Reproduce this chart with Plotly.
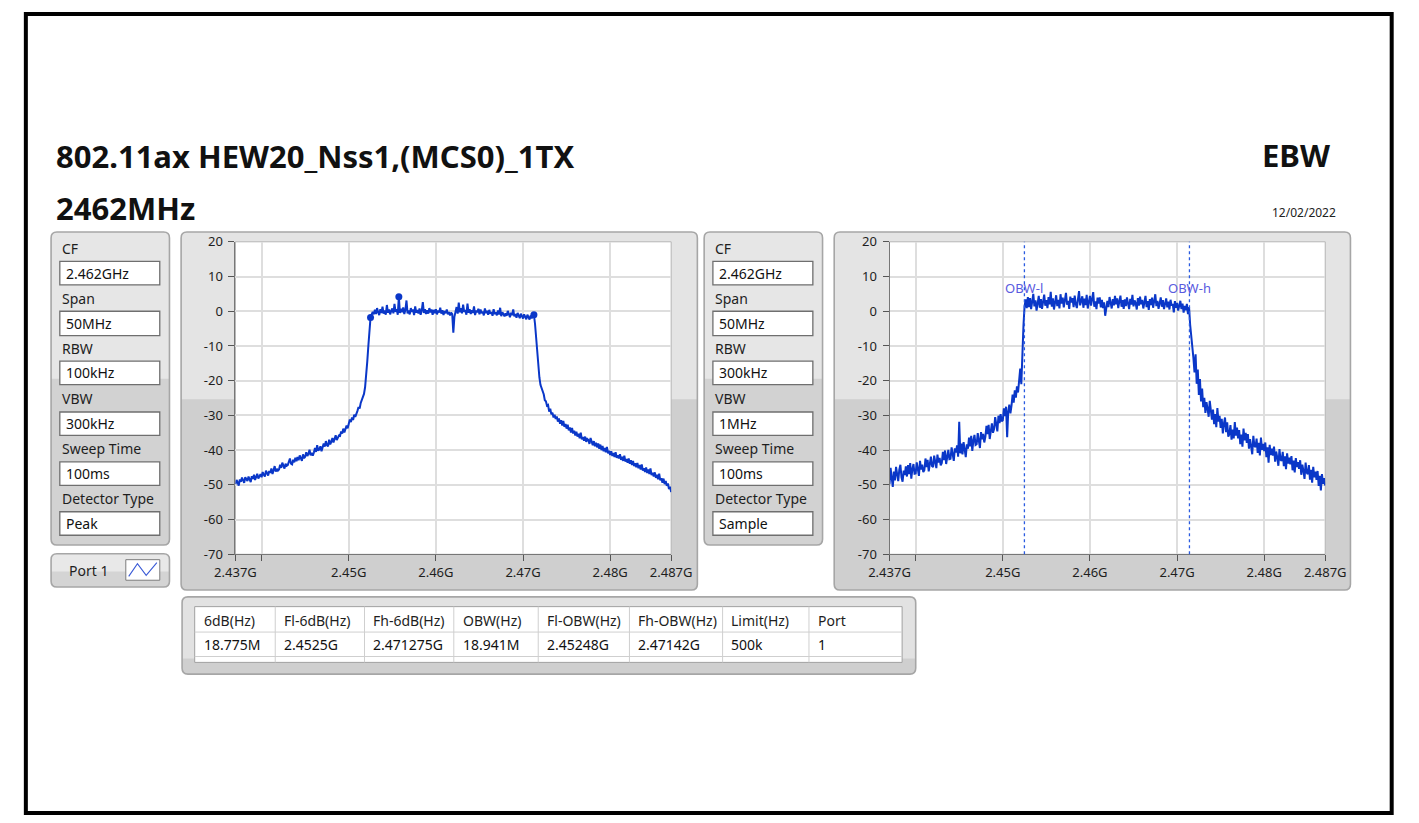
import numpy as np
import plotly.graph_objects as go

W, H = 1419, 823

# ------------------------------------------------------------------ data
CF_GHZ = 2.462
SPAN_MHZ = 50
N_POINTS = 401

title_text = "802.11ax HEW20_Nss1,(MCS0)_1TX"
freq_text = "2462MHz"
test_name = "EBW"
date_text = "12/02/2022"

# Left graph: Peak detector, RBW 100 kHz (dBm), one row per MHz
peak_trace_db = [
    -49.8, -48.6, -49.3, -50.2, -48.4, -49.1, -47.9, -48.8,
    -49.4, -47.8, -48.5, -48.9, -47.6, -48.7, -49.2, -47.5,
    -48.3, -47.1, -48.6, -47.7, -46.8, -48.2, -47.4, -46.9,
    -47.8, -46.3, -47.1, -47.6, -45.9, -46.8, -47.3, -46.0,
    -46.5, -45.3, -46.9, -45.8, -44.6, -46.2, -45.4, -45.9,
    -45.6, -44.2, -45.1, -43.6, -44.8, -45.3, -43.9, -44.5,
    -44.3, -43.1, -42.4, -43.9, -44.1, -42.8, -43.5, -42.2,
    -43.2, -42.0, -42.9, -41.5, -42.6, -43.1, -41.2, -42.3,
    -41.9, -40.6, -41.7, -41.1, -39.9, -41.5, -40.8, -41.6,
    -40.7, -39.4, -40.5, -38.6, -40.1, -39.8, -38.9, -40.3,
    -39.2, -38.1, -39.0, -37.4, -38.6, -38.9, -37.0, -38.3,
    -37.6, -36.5, -37.8, -36.9, -35.7, -37.1, -36.2, -35.8,
    -35.9, -34.6, -35.2, -33.8, -34.9, -34.1, -32.9, -33.7,
    -32.5, -31.2, -31.9, -30.6, -31.3, -29.8, -30.4, -29.1,
    -28.7, -27.6, -28.0, -26.4, -25.5, -24.6, -23.8, -21.9,
    -19.0, -14.5, -10.0, -5.0, -1.8, -1.0, -0.2, -0.9,
    0.4, -0.8, 0.9, -0.3, -1.1, 0.6, -0.5, 1.3,
    -0.7, 0.2, -1.0, 1.8, -0.4, 0.5, -0.9, 0.1,
    0.8, -0.6, 2.1, -0.2, 0.6, -1.0, 4.2, -0.5,
    0.7, -0.3, 1.1, -0.8, 0.4, 3.1, -0.6, 0.2,
    -0.9, 0.9, -0.2, 0.5, -1.1, 1.4, -0.4, 0.3,
    -0.6, 0.8, -1.0, 0.2, 2.6, -0.5, 0.6, -0.8,
    0.3, -0.7, 0.9, -0.3, 0.5, -1.0, 0.4, -0.6,
    0.6, -0.9, 0.2, -0.4, 1.0, -0.7, 0.3, -1.1,
    0.1, -0.6, 0.5, -0.9, -0.2, -1.2, -0.4, -0.8,
    -6.2, -1.6, -0.5, 1.2, -0.7, 2.5, -0.3, 0.9,
    -0.6, 1.9, -0.2, 0.4, -1.0, 2.2, -0.4, 0.6,
    -0.8, 0.3, -0.5, 1.4, -1.1, 0.2, -0.3, 0.7,
    -0.9, 0.5, -0.6, -0.1, -1.2, 0.8, -0.5, 0.1,
    -1.0, 0.4, -0.7, -0.2, -1.3, 0.6, -0.8, -0.3,
    -1.2, 0.2, -0.9, 1.0, -1.4, -0.3, -0.8, -1.5,
    -0.6, -1.3, 0.1, -1.0, -1.7, -0.4, -1.1, 0.5,
    -1.5, -0.8, -1.9, -0.5, -1.2, -2.0, -0.7, -1.4,
    -2.1, -0.9, -1.6, -2.3, -1.0, -1.8, -2.4, -1.2,
    -2.0, -1.5, -1.0, -3.6, -7.6, -12.0, -16.0, -19.0,
    -21.2, -22.0, -23.1, -23.9, -25.6, -25.9, -27.2, -27.0,
    -28.9, -28.1, -29.7, -29.2, -30.6, -29.8, -31.0, -30.3,
    -31.8, -30.9, -32.4, -31.4, -32.9, -31.6, -33.3, -32.5,
    -33.8, -32.7, -34.3, -33.5, -34.9, -33.6, -35.2, -34.4,
    -35.8, -34.7, -36.1, -35.3, -36.6, -35.0, -36.9, -36.2,
    -37.3, -36.1, -37.6, -36.8, -37.1, -38.2, -36.5, -37.7,
    -38.6, -37.4, -38.9, -37.9, -39.2, -38.1, -39.6, -38.4,
    -40.0, -38.8, -40.3, -39.4, -40.6, -39.1, -40.9, -40.2,
    -41.4, -40.3, -41.7, -40.8, -42.0, -40.6, -42.2, -41.5,
    -42.4, -41.2, -42.8, -41.9, -43.1, -41.6, -43.3, -42.6,
    -43.6, -42.4, -43.9, -42.9, -44.3, -43.1, -44.6, -43.8,
    -44.9, -43.7, -45.2, -44.3, -45.6, -44.1, -45.9, -45.2,
    -46.3, -45.0, -46.6, -45.6, -46.9, -45.3, -47.2, -46.5,
    -47.6, -46.4, -48.0, -47.1, -48.4, -46.8, -48.7, -48.1,
    -49.4, -48.2, -49.8, -48.9, -50.3, -49.6, -51.2, -50.5,
    -52.1,
]

# Right graph: Sample detector, RBW 300 kHz (dBm), one row per MHz
sample_trace_db = [
    -49.8, -45.1, -47.9, -50.6, -46.2, -48.7, -44.8, -47.3,
    -48.9, -45.6, -44.2, -47.8, -49.1, -45.9, -47.2, -44.7,
    -47.6, -44.3, -46.9, -43.7, -48.2, -45.5, -44.0, -46.8,
    -46.7, -43.5, -45.9, -47.4, -43.1, -45.6, -44.2, -46.3,
    -45.8, -42.4, -44.9, -42.8, -46.1, -43.3, -41.9, -44.6,
    -44.9, -41.6, -43.8, -45.2, -41.3, -43.6, -42.2, -44.4,
    -43.7, -40.5, -42.9, -40.1, -44.0, -41.8, -39.9, -42.6,
    -42.5, -39.2, -41.6, -43.1, -39.5, -40.7, -38.6, -41.9,
    -31.8, -40.9, -38.1, -41.2, -37.7, -39.8, -42.0, -38.3,
    -39.6, -36.4, -38.9, -35.9, -40.2, -37.3, -35.6, -38.5,
    -38.3, -35.1, -37.2, -39.4, -34.8, -36.9, -35.3, -37.8,
    -36.2, -33.0, -35.4, -32.7, -36.8, -34.1, -32.3, -35.0,
    -33.9, -30.5, -32.8, -34.6, -30.1, -32.2, -29.6, -31.7,
    -31.4, -28.0, -30.2, -27.5, -36.3, -28.8, -26.9, -29.4,
    -27.2, -24.0, -26.3, -22.8, -24.9, -21.6, -23.4, -19.8,
    -16.5, -21.0, -9.8, -4.0, 1.5, 3.4, 0.9, 4.1,
    1.2, 3.8, 0.6, 2.9, 5.0, 1.4, 3.1, 0.2,
    2.7, 4.4, 1.0, 3.5, 0.7, 2.3, 4.8, 1.6,
    3.2, 0.9, 4.1, 2.0, 5.6, 1.3, 3.7, 0.5,
    2.8, 4.6, 1.5, 3.3, 0.8, 4.9, 2.2, 3.9,
    1.1, 3.6, 5.3, 1.9, 3.0, 0.7, 4.2, 2.5,
    3.8, 1.2, 4.5, 2.1, 0.9, 3.4, 5.8, 1.7,
    2.9, 4.3, 1.0, 3.6, 1.8, 4.7, 0.8, 3.1,
    4.4, 1.6, 3.2, 5.5, 1.3, 2.8, 0.6, 3.9,
    2.2, 4.0, 1.1, 3.3, 0.9, 2.6, -1.3, 1.4,
    3.0, 1.2, 4.1, 2.4, 0.8, 3.5, 1.7, 4.4,
    2.0, 3.7, 0.9, 2.9, 4.5, 1.3, 3.2, 0.7,
    3.4, 1.5, 4.0, 2.2, 0.6, 3.6, 1.9, 4.7,
    1.4, 3.1, 2.3, 0.5, 3.8, 1.6, 4.2, 2.0,
    3.3, 0.8, 2.6, 4.4, 1.2, 2.9, 0.4, 3.5,
    1.8, 3.9, 1.0, 2.7, 4.9, 1.5, 3.0, 0.7,
    2.5, 4.0, 1.3, 3.2, 0.6, 2.4, 3.7, 1.1,
    2.8, 0.5, 3.3, 1.6, 2.1, -0.3, 2.9, 1.0,
    2.4, 0.2, 1.8, 3.0, 0.6, 2.2, -0.4, 1.5,
    0.3, 2.1, -0.8, 1.2, -3.9, -6.8, -10.4, -13.5,
    -17.6, -12.4, -20.9, -16.8, -24.1, -19.5, -26.0, -22.3,
    -27.6, -24.9, -29.3, -26.2, -28.1, -30.4, -25.8, -29.0,
    -31.2, -28.3, -32.5, -29.6, -33.4, -27.9, -31.8, -30.1,
    -33.6, -31.0, -35.2, -32.4, -30.6, -34.8, -32.0, -36.1,
    -35.4, -32.8, -37.0, -34.1, -36.6, -31.9, -35.8, -33.5,
    -36.6, -34.2, -38.3, -35.5, -39.0, -33.8, -37.2, -35.0,
    -37.9, -35.4, -39.6, -36.8, -38.5, -41.2, -35.9, -38.8,
    -39.1, -36.7, -40.8, -37.9, -41.5, -36.4, -39.9, -38.2,
    -40.3, -37.8, -42.0, -39.2, -43.6, -38.5, -41.4, -39.6,
    -41.6, -39.0, -43.3, -40.4, -42.2, -44.5, -39.7, -42.8,
    -43.1, -40.5, -44.6, -41.8, -45.5, -40.9, -43.9, -42.2,
    -44.1, -41.7, -45.8, -43.0, -46.4, -42.3, -44.9, -43.5,
    -45.4, -42.9, -47.1, -44.2, -46.0, -48.3, -43.6, -46.5,
    -46.9, -44.3, -48.5, -45.7, -49.4, -44.8, -47.8, -46.2,
    -48.6, -46.0, -50.3, -47.4, -51.6, -46.9, -49.7, -48.1,
    -50.2,
]

marker_freq_ghz = [2.4525, 2.45575, 2.47125]
marker_level_db = [-1.8, 4.2, -1.0]

obw_freq_ghz = [2.45248, 2.47142]
obw_labels = ["OBW-l", "OBW-h"]
obw_label_level_db = 6.8

x_tick_vals = [2.437, 2.44, 2.45, 2.46, 2.47, 2.48, 2.487]
x_tick_text = ["2.437G", "", "2.45G", "2.46G", "2.47G", "2.48G", "2.487G"]
y_tick_vals = [20, 10, 0, -10, -20, -30, -40, -50, -60, -70]
y_tick_text = ["20", "10", "0", "-10", "-20", "-30", "-40", "-50", "-60", "-70"]

settings_labels = ["CF", "Span", "RBW", "VBW", "Sweep Time", "Detector Type"]
settings_left = ["2.462GHz", "50MHz", "100kHz", "300kHz", "100ms", "Peak"]
settings_right = ["2.462GHz", "50MHz", "300kHz", "1MHz", "100ms", "Sample"]

table_headers = ["6dB(Hz)", "Fl-6dB(Hz)", "Fh-6dB(Hz)", "OBW(Hz)", "Fl-OBW(Hz)",
                 "Fh-OBW(Hz)", "Limit(Hz)", "Port"]
table_values = ["18.775M", "2.4525G", "2.471275G", "18.941M", "2.45248G",
                "2.47142G", "500k", "1"]
port_label = "Port 1"

assert len(peak_trace_db) == N_POINTS and len(sample_trace_db) == N_POINTS
freq_ghz = np.linspace(CF_GHZ - SPAN_MHZ / 2000.0, CF_GHZ + SPAN_MHZ / 2000.0, N_POINTS)

# ------------------------------------------------------------------ helpers
FONT = "Noto Sans"
BLUE = "#0a37c8"


def X(p):
    return p / W


def Y(p):
    return 1 - p / H


shapes = []
annotations = []


def rr_path(x0, y0, x1, y1, r, top=True, bottom=True):
    if top:
        s = f"M{X(x0 + r)},{Y(y0)} L{X(x1 - r)},{Y(y0)} Q{X(x1)},{Y(y0)} {X(x1)},{Y(y0 + r)}"
    else:
        s = f"M{X(x0)},{Y(y0)} L{X(x1)},{Y(y0)}"
    if bottom:
        s += (f" L{X(x1)},{Y(y1 - r)} Q{X(x1)},{Y(y1)} {X(x1 - r)},{Y(y1)}"
              f" L{X(x0 + r)},{Y(y1)} Q{X(x0)},{Y(y1)} {X(x0)},{Y(y1 - r)}")
    else:
        s += f" L{X(x1)},{Y(y1)} L{X(x0)},{Y(y1)}"
    if top:
        s += f" L{X(x0)},{Y(y0 + r)} Q{X(x0)},{Y(y0)} {X(x0 + r)},{Y(y0)} Z"
    else:
        s += " Z"
    return s


def panel(x0, y0, x1, y1, split, c_top="#e4e4e4", c_bot="#cfcfcf", border="#a6a6a6", r=6):
    shapes.append(dict(type="path", path=rr_path(x0, y0, x1, y1, r), xref="paper", yref="paper",
                       fillcolor=c_top, line=dict(width=0), layer="below"))
    shapes.append(dict(type="path", path=rr_path(x0, split, x1, y1, r, top=False), xref="paper",
                       yref="paper", fillcolor=c_bot, line=dict(width=0), layer="below"))
    shapes.append(dict(type="path", path=rr_path(x0, y0, x1, y1, r), xref="paper", yref="paper",
                       fillcolor="rgba(0,0,0,0)", line=dict(color=border, width=1.6), layer="below"))


def rect(x0, y0, x1, y1, fill="white", line="#8a8a8a", lw=1.0, layer="below"):
    shapes.append(dict(type="rect", xref="paper", yref="paper", x0=X(x0), x1=X(x1), y0=Y(y1), y1=Y(y0),
                       fillcolor=fill, line=dict(color=line, width=lw), layer=layer))


def hline(x0, x1, y, color="#d0d0d0", lw=1.0):
    shapes.append(dict(type="line", xref="paper", yref="paper", x0=X(x0), x1=X(x1), y0=Y(y), y1=Y(y),
                       line=dict(color=color, width=lw), layer="below"))


def vline(x, y0, y1, color="#d0d0d0", lw=1.0):
    shapes.append(dict(type="line", xref="paper", yref="paper", x0=X(x), x1=X(x), y0=Y(y0), y1=Y(y1),
                       line=dict(color=color, width=lw), layer="below"))


def text(x, y, s, size=14, color="#1e1e1e", anchor="left", family=FONT):
    annotations.append(dict(x=X(x), y=Y(y), xref="paper", yref="paper", text=s, showarrow=False,
                            xanchor=anchor, yanchor="middle", font=dict(size=size, color=color, family=family)))


# ------------------------------------------------------------------ page
shapes.append(dict(type="rect", xref="paper", yref="paper", x0=X(5), x1=X(1412.5), y0=Y(822), y1=Y(5),
                    line=dict(color="black", width=4), fillcolor="rgba(0,0,0,0)", layer="above"))

text(34, 150, f"<b>{title_text}</b>", size=31, color="#111111")
text(34, 203, f"<b>{freq_text}</b>", size=31, color="#111111")
text(1351, 149, f"<b>{test_name}</b>", size=31, color="#111111", anchor="right")
text(1357, 208, date_text, size=12, color="#222222", anchor="right")

# settings panels
label_y = [245, 296, 347, 398, 449, 500]
box_y = [(258, 282), (309, 334), (360, 384), (412, 436), (463, 487), (514, 538)]


def settings_panel(x0, x1, values):
    panel(x0, 228, x1, 548, 378, c_top="#e6e6e6", c_bot="#d2d2d2")
    for lab, ly, (by0, by1), val in zip(settings_labels, label_y, box_y, values):
        text(x0 + 9, ly, lab, size=14)
        rect(x0 + 9, by0, x1 - 10, by1, fill="white", line="#6f6f6f", lw=1.3)
        text(x0 + 13, (by0 + by1) / 2, val, size=14, color="#111111")


settings_panel(31, 153, settings_left)
settings_panel(704, 826, settings_right)

# port button
panel(31, 557, 153, 591, 575, c_top="#e8e8e8", c_bot="#d4d4d4")
text(70, 574, port_label, size=14, anchor="center")
rect(108, 563, 143, 584, fill="white", line="#7d7d7d", lw=1.0)
shapes.append(dict(type="path", xref="paper", yref="paper",
                   path=f"M{X(111)},{Y(580)} L{X(120)},{Y(567)} L{X(129)},{Y(579)} L{X(140)},{Y(566)}",
                   line=dict(color="#3a5ad6", width=1.1), layer="below"))

# graph frames
PLOT_Y0, PLOT_Y1 = 238, 557.5
LX0, LX1 = 221, 670
RX0, RX1 = 895, 1344
panel(165, 228, 697, 594, 399)
panel(838, 228, 1370, 594, 399)
rect(LX0, PLOT_Y0, LX1, PLOT_Y1, fill="white", line="#b5b5b5", lw=1)
rect(RX0, PLOT_Y0, RX1, PLOT_Y1, fill="white", line="#b5b5b5", lw=1)

# table
panel(166, 601, 922, 680, 664, c_top="#e2e2e2", c_bot="#cfcfcf")
rect(179, 611, 908, 668, fill="white", line="#a0a0a0", lw=1)
hline(179, 908, 637, color="#cfcfcf")
hline(179, 908, 662, color="#cfcfcf")
col_lines = [262, 354, 446, 533, 627, 723, 812]
for cx in col_lines:
    vline(cx, 611, 668, color="#cfcfcf")
col_text_x = [187] + [c + 7 for c in col_lines]
for cx, hd, vv in zip(col_text_x, table_headers, table_values):
    text(cx, 625, hd, size=14)
    text(cx, 650, vv, size=14, color="#111111")

# ------------------------------------------------------------------ figure
fig = go.Figure()
fig.add_trace(go.Scatter(x=freq_ghz, y=peak_trace_db, mode="lines", xaxis="x", yaxis="y",
                         line=dict(color=BLUE, width=2.0), hoverinfo="skip"))
fig.add_trace(go.Scatter(x=marker_freq_ghz, y=marker_level_db, mode="markers", xaxis="x", yaxis="y",
                         marker=dict(color=BLUE, size=7), hoverinfo="skip"))
fig.add_trace(go.Scatter(x=freq_ghz, y=sample_trace_db, mode="lines", xaxis="x2", yaxis="y2",
                         line=dict(color=BLUE, width=2.0), hoverinfo="skip"))

for f, lab in zip(obw_freq_ghz, obw_labels):
    shapes.append(dict(type="line", xref="x2", yref="y2 domain", x0=f, x1=f, y0=0, y1=1,
                       line=dict(color="#2a5be0", width=1.3, dash="dot")))
    annotations.append(dict(x=f, y=obw_label_level_db, xref="x2", yref="y2", text=lab, showarrow=False,
                            xanchor="center", yanchor="middle",
                            font=dict(size=13, color="#5a5ae0", family=FONT)))

axis_common = dict(
    showgrid=True, gridcolor="#dedede", gridwidth=1.5, zeroline=False,
    showline=True, linecolor="#777777", linewidth=1,
    ticks="outside", ticklen=6, tickcolor="#555555", tickwidth=1,
    tickfont=dict(size=13, color="#1e1e1e", family=FONT), fixedrange=True,
)
xa = dict(axis_common, range=[2.437, 2.487], tickmode="array", tickvals=x_tick_vals, ticktext=x_tick_text)
ya = dict(axis_common, range=[-70, 20], tickmode="array", tickvals=y_tick_vals, ticktext=y_tick_text,
          ticklabelstandoff=3)

fig.update_layout(
    autosize=True, margin=dict(l=0, r=0, t=0, b=0, pad=0),
    paper_bgcolor="white", plot_bgcolor="white", showlegend=False,
    xaxis=dict(xa, domain=[X(LX0), X(LX1)], anchor="y"),
    yaxis=dict(ya, domain=[Y(PLOT_Y1), Y(PLOT_Y0)], anchor="x"),
    xaxis2=dict(xa, domain=[X(RX0), X(RX1)], anchor="y2"),
    yaxis2=dict(ya, domain=[Y(PLOT_Y1), Y(PLOT_Y0)], anchor="x2"),
    shapes=shapes, annotations=annotations,
)

fig.write_html("out.html", config={"displayModeBar": False},
               default_width="100vw", default_height="100vh",
               post_script="document.body.style.margin='0px';"
                           "document.documentElement.style.overflow='hidden';")
